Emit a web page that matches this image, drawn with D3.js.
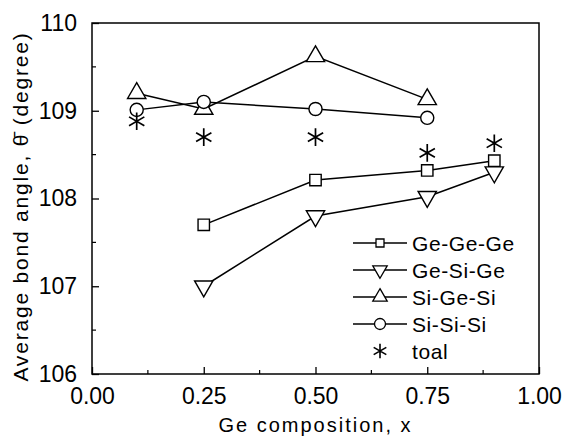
<!DOCTYPE html>
<html>
<head>
<meta charset="utf-8">
<script src="https://cdn.jsdelivr.net/npm/d3@7"></script>
<style>
  body { margin: 0; background: #fff; }
  svg text { font-family: "Liberation Sans", Arial, sans-serif; fill: #000; }
</style>
</head>
<body>
<svg id="chart" width="568" height="436"></svg>
<script>
// data
const xTicks = [0, 0.25, 0.5, 0.75, 1.0];
const yTicks = [106, 107, 108, 109, 110];

const xGeGeGe = [0.25, 0.5, 0.75, 0.9];
const geGeGe = [107.7, 108.21, 108.32, 108.43];

const xGeSiGe = [0.25, 0.5, 0.75, 0.9];
const geSiGe = [107.0, 107.8, 108.02, 108.3];

const xSiGeSi = [0.1, 0.25, 0.5, 0.75];
const siGeSi = [109.2, 109.02, 109.62, 109.13];

const xSiSiSi = [0.1, 0.25, 0.5, 0.75];
const siSiSi = [109.01, 109.1, 109.02, 108.92];

const xTotal = [0.1, 0.25, 0.5, 0.75, 0.9];
const total = [108.88, 108.7, 108.7, 108.52, 108.63];

const series = [
    { name: "Ge-Ge-Ge", xs: xGeGeGe, ys: geGeGe, sym: d3.symbolSquare, size: 130, lsize: 64, rot: 0, line: true },
    { name: "Ge-Si-Ge", xs: xGeSiGe, ys: geSiGe, sym: d3.symbolTriangle, size: 145, lsize: 90, rot: 180, line: true },
    { name: "Si-Ge-Si", xs: xSiGeSi, ys: siGeSi, sym: d3.symbolTriangle, size: 145, lsize: 90, rot: 0, line: true },
    { name: "Si-Si-Si", xs: xSiSiSi, ys: siSiSi, sym: d3.symbolCircle, size: 135, lsize: 95, rot: 0, line: true },
    { name: "toal", xs: xTotal, ys: total, sym: d3.symbolAsterisk, size: 220, lsize: 150, rot: 0, line: false }
];

const svg = d3.select("#chart");
const margin = { left: 92, top: 23, right: 29, bottom: 62 };
const width = 568 - margin.left - margin.right,
      height = 436 - margin.top - margin.bottom;

const x = d3.scaleLinear().domain([0, 1]).range([0, width]);
const y = d3.scaleLinear().domain([106, 110]).range([height, 0]);

const g = svg.append("g").attr("transform", `translate(${margin.left},${margin.top})`);

// frame
g.append("rect")
    .attr("width", width)
    .attr("height", height)
    .attr("fill", "none")
    .attr("stroke", "#000")
    .attr("stroke-width", 1.5);

// inward ticks
const xAxis = d3.axisBottom(x).tickValues(xTicks).tickSize(-7).tickPadding(14).tickFormat(d3.format(".2f"));
const yAxis = d3.axisLeft(y).tickValues(yTicks).tickSize(-7).tickPadding(15).tickFormat(d3.format("d"));

const gX = g.append("g").attr("transform", `translate(0,${height})`).call(xAxis);
const gY = g.append("g").call(yAxis);

[gX, gY].forEach(a => {
    a.select(".domain").remove();
    a.selectAll("line").attr("stroke", "#000").attr("stroke-width", 1.3);
    a.selectAll("text").attr("font-size", 23).attr("font-family", '"Liberation Sans", Arial, sans-serif');
});
gX.selectAll("text").attr("dy", "0.71em");

// minor ticks
const xMinor = d3.range(0.125, 1, 0.25);
const yMinor = d3.range(106.5, 110, 1);
g.selectAll(".xminor").data(xMinor).join("line")
    .attr("x1", d => x(d)).attr("x2", d => x(d))
    .attr("y1", height).attr("y2", height - 4)
    .attr("stroke", "#000").attr("stroke-width", 1.2);
g.selectAll(".yminor").data(yMinor).join("line")
    .attr("x1", 0).attr("x2", 4)
    .attr("y1", d => y(d)).attr("y2", d => y(d))
    .attr("stroke", "#000").attr("stroke-width", 1.2);

// axis titles
svg.append("text")
    .attr("x", margin.left + width / 2)
    .attr("y", 432)
    .attr("text-anchor", "middle")
    .attr("font-size", 20)
    .attr("letter-spacing", 2)
    .text("Ge composition, x");

svg.append("text")
    .attr("transform", `translate(28,${margin.top + height / 2 + 8}) rotate(-90)`)
    .attr("text-anchor", "middle")
    .attr("font-size", 21)
    .attr("letter-spacing", 1.8)
    .text("Average bond angle, \u03B8\u0304 (degree)");

const line = d3.line().x(d => x(d[0])).y(d => y(d[1]));

series.forEach(s => {
    const pts = s.xs.map((v, i) => [v, s.ys[i]]);
    if (s.line) {
        g.append("path")
            .datum(pts)
            .attr("d", line)
            .attr("fill", "none")
            .attr("stroke", "#000")
            .attr("stroke-width", 1.5);
    }
    g.selectAll(null).data(pts).join("path")
        .attr("d", d3.symbol(s.sym, s.size))
        .attr("transform", d => `translate(${x(d[0])},${y(d[1])}) rotate(${s.rot})`)
        .attr("fill", s.line ? "#fff" : "none")
        .attr("stroke", "#000")
        .attr("stroke-width", s.line ? 1.4 : 1.7);
});

// legend
const legend = svg.append("g").attr("transform", "translate(353,243)");
series.forEach((s, i) => {
    const row = legend.append("g").attr("transform", `translate(0,${i * 27})`);
    if (s.line) {
        row.append("line").attr("x1", 0).attr("x2", 54)
            .attr("stroke", "#000").attr("stroke-width", 1.4);
    }
    row.append("path")
        .attr("d", d3.symbol(s.sym, s.lsize))
        .attr("transform", `translate(27,0) rotate(${s.rot})`)
        .attr("fill", s.line ? "#fff" : "none")
        .attr("stroke", "#000")
        .attr("stroke-width", s.line ? 1.3 : 1.6);
    row.append("text")
        .attr("x", 59)
        .attr("dy", "0.36em")
        .attr("font-size", 21)
        .attr("letter-spacing", 0.6)
        .text(s.name);
});
</script>
</body>
</html>
